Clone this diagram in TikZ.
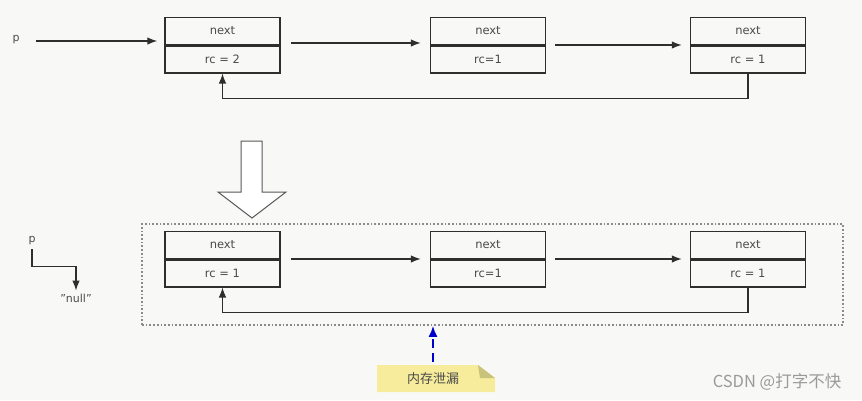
\documentclass[tikz,border=0pt]{standalone}
\usepackage{fontspec}
\setmainfont{DejaVu Sans}
\newfontfamily\cjk{Noto Sans CJK SC}
\usetikzlibrary{arrows.meta}
\definecolor{ink}{HTML}{2E2E2E}
\definecolor{txt}{HTML}{4A4A4A}
\definecolor{bg}{HTML}{F8F9F7}
\definecolor{notey}{HTML}{F6EC9C}
\definecolor{notef}{HTML}{C9C27A}
\definecolor{dotc}{HTML}{8A8A8A}
\definecolor{wm}{HTML}{9A9A9A}
\tikzset{
  cell/.style={draw=ink, line width=1.5pt, minimum width=115pt, minimum height=27pt, inner sep=0pt, font=\fontsize{11.5}{13}\selectfont, text=txt},
  arr/.style={draw=ink, line width=1.2pt, -{Latex[length=10pt,width=7.5pt]}},
  lbl/.style={font=\fontsize{11}{13}\selectfont, text=txt, inner sep=0pt},
  dotbox/.style={draw=dotc, line width=1.7pt, dash pattern=on 1.7pt off 2pt, minimum width=701pt, minimum height=101pt, inner sep=0pt},
  bluearr/.style={draw=blue!80!black, line width=1.8pt, dash pattern=on 9pt off 5pt, -{Latex[length=11pt,width=9pt]}},
}
\begin{document}
\begin{tikzpicture}[x=1pt,y=-1pt]
\fill[bg] (0,0) rectangle (862,400);
\useasboundingbox (0,0) rectangle (862,400);
% top row
\node[cell,anchor=south] (a1n) at (222.5,45) {next};
\node[cell,anchor=north] (a1r) at (222.5,45) {rc = 2};
\node[cell,anchor=south] (a2n) at (488,45) {next};
\node[cell,anchor=north] (a2r) at (488,45) {rc=1};
\node[cell,anchor=south] (a3n) at (748,45) {next};
\node[cell,anchor=north] (a3r) at (748,45) {rc = 1};
\node[lbl] (p1) at (16,40) {p};
\draw[arr] ([xshift=16pt,yshift=-1pt]p1.east) -- ([xshift=-7pt,yshift=-1pt]p1.east -| a1n.west);
\draw[arr] ([xshift=10pt,yshift=2pt]a1n.south east) -- ([xshift=-9pt,yshift=2pt]a2n.south west);
\draw[arr] ([xshift=9pt]a2n.south east) -- ([xshift=-8pt]a3n.south west);
\draw[arr] (a3r.south) -- ++(0,25) -| (a1r.south);
% big arrow
\draw[ink!80, line width=1pt, fill=white, line join=miter]
  (241,141) -- (262,141) -- (262,192) -- (286,192) -- (252,218) -- (218,192) -- (241,192) -- cycle;
% bottom row
\node[dotbox] (frame) at (492.5,274.5) {};
\node[cell,anchor=south] (b1n) at (222.5,259) {next};
\node[cell,anchor=north] (b1r) at (222.5,259) {rc = 1};
\node[cell,anchor=south] (b2n) at (488,259) {next};
\node[cell,anchor=north] (b2r) at (488,259) {rc=1};
\node[cell,anchor=south] (b3n) at (748,259) {next};
\node[cell,anchor=north] (b3r) at (748,259) {rc = 1};
\draw[arr] ([xshift=10pt]b1n.south east) -- ([xshift=-9pt]b2n.south west);
\draw[arr] ([xshift=9pt]b2n.south east) -- ([xshift=-8pt]b3n.south west);
\draw[arr] (b3r.south) -- ++(0,25) -| (b1r.south);
% p -> null
\node[lbl] (p2) at (32,241) {p};
\node[lbl] (nul) at (76,298) {\symbol{34}null\symbol{34}};
\draw[arr] ([yshift=-4pt]p2.south) -- ++(0,17) -| ([yshift=3pt]nul.north);
% note
\fill[notey] (377,365) -- (478,365) -- (495,378) -- (495,392) -- (377,392) -- cycle;
\fill[notef] (478,365) -- (495,378) -- (480,378) -- cycle;
\node[inner sep=0pt, minimum width=118pt, minimum height=27pt, font=\cjk\fontsize{13}{15}\selectfont, text=txt] (note) at (433,378.5) {内存泄漏};
\draw[bluearr] ([yshift=3pt]note.north) -- (note.north |- frame.south);
% watermark
\node[font=\cjk\fontsize{16.5}{18}\selectfont, text=wm, inner sep=0pt] (wmk) at (777,382) {CSDN @打字不快};
\end{tikzpicture}
\end{document}
